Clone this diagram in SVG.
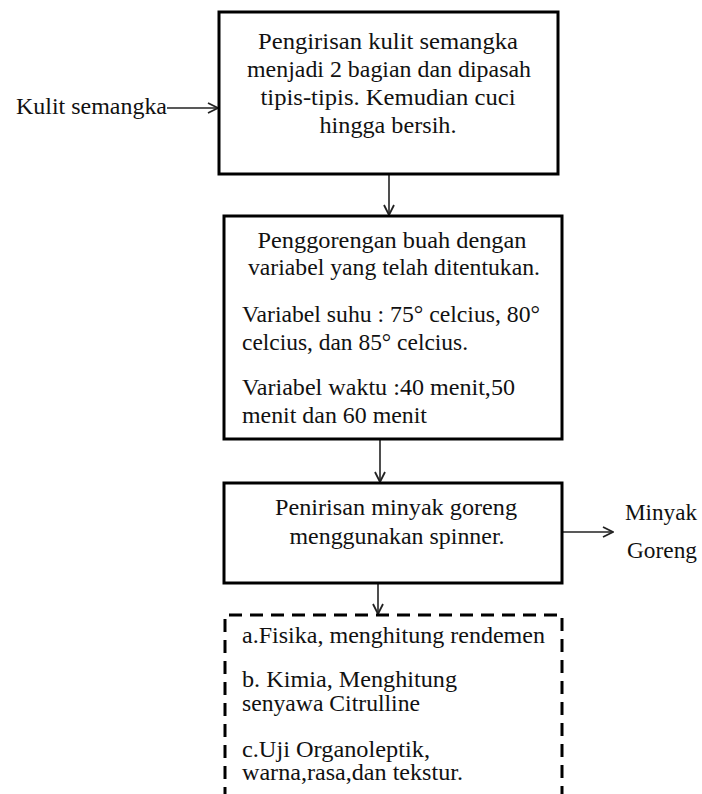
<svg xmlns="http://www.w3.org/2000/svg" width="702" height="794" viewBox="0 0 702 794">
<style>
text{font-family:"Liberation Serif","Times New Roman",serif;font-size:22.5px;fill:#111}
.c{text-anchor:middle}
.box{fill:#fff;stroke:#000;stroke-width:3}
.dash{fill:none;stroke:#000;stroke-width:3;stroke-dasharray:13 8}
.ln{fill:none;stroke:#222;stroke-width:1.6}
</style>
<defs>
<marker id="ah" viewBox="0 0 12 12" refX="11" refY="6" markerWidth="12" markerHeight="12" markerUnits="userSpaceOnUse" orient="auto">
<path d="M1,1 L11,6 L1,11" fill="none" stroke="#222" stroke-width="1.8"/>
</marker>
</defs>
<rect width="702" height="794" fill="#fff"/>
<g id="connectors">
<line class="ln" x1="167" y1="108" x2="218" y2="108" marker-end="url(#ah)"/>
<line class="ln" x1="389" y1="175" x2="389" y2="215" marker-end="url(#ah)"/>
<line class="ln" x1="380" y1="440" x2="380" y2="482" marker-end="url(#ah)"/>
<line class="ln" x1="563" y1="532" x2="613" y2="532" marker-end="url(#ah)"/>
<line class="ln" x1="378" y1="584" x2="378" y2="614" marker-end="url(#ah)"/>
</g>
<g id="input">
<text x="16" y="114" textLength="151" lengthAdjust="spacingAndGlyphs">Kulit semangka</text>
</g>
<g id="step1">
<rect class="box" x="219" y="12" width="339" height="162"/>
<text class="c" x="388" y="49" textLength="260" lengthAdjust="spacingAndGlyphs">Pengirisan kulit semangka</text>
<text class="c" x="389" y="77" textLength="284" lengthAdjust="spacingAndGlyphs">menjadi 2 bagian dan dipasah</text>
<text class="c" x="388" y="105" textLength="255" lengthAdjust="spacingAndGlyphs">tipis-tipis. Kemudian cuci</text>
<text class="c" x="388" y="133" textLength="137" lengthAdjust="spacingAndGlyphs">hingga bersih.</text>
</g>
<g id="step2">
<rect class="box" x="224" y="216" width="338" height="223"/>
<text class="c" x="392" y="248" textLength="269" lengthAdjust="spacingAndGlyphs">Penggorengan buah dengan</text>
<text class="c" x="394" y="275" textLength="292" lengthAdjust="spacingAndGlyphs">variabel yang telah ditentukan.</text>
<text x="242" y="322" textLength="298" lengthAdjust="spacingAndGlyphs">Variabel suhu : 75° celcius, 80°</text>
<text x="242" y="350" textLength="226" lengthAdjust="spacingAndGlyphs">celcius, dan 85° celcius.</text>
<text x="242" y="395" textLength="273" lengthAdjust="spacingAndGlyphs">Variabel waktu :40 menit,50</text>
<text x="242" y="423" textLength="185" lengthAdjust="spacingAndGlyphs">menit dan 60 menit</text>
</g>
<g id="step3">
<rect class="box" x="224" y="483" width="338" height="100"/>
<text class="c" x="396" y="515" textLength="242" lengthAdjust="spacingAndGlyphs">Penirisan minyak goreng</text>
<text class="c" x="397" y="544" textLength="215" lengthAdjust="spacingAndGlyphs">menggunakan spinner.</text>
</g>
<g id="output">
<text x="625" y="520" textLength="72" lengthAdjust="spacingAndGlyphs">Minyak</text>
<text x="627" y="558" textLength="70" lengthAdjust="spacingAndGlyphs">Goreng</text>
</g>
<g id="analysis">
<path class="dash" d="M225,800 L225,615 L562,615 L562,800"/>
<text x="242" y="643" textLength="303" lengthAdjust="spacingAndGlyphs">a.Fisika, menghitung rendemen</text>
<text x="242" y="687" textLength="215" lengthAdjust="spacingAndGlyphs">b. Kimia, Menghitung</text>
<text x="242" y="711" textLength="178" lengthAdjust="spacingAndGlyphs">senyawa Citrulline</text>
<text x="242" y="757" textLength="188" lengthAdjust="spacingAndGlyphs">c.Uji Organoleptik,</text>
<text x="242" y="780" textLength="221" lengthAdjust="spacingAndGlyphs">warna,rasa,dan tekstur.</text>
</g>
</svg>
